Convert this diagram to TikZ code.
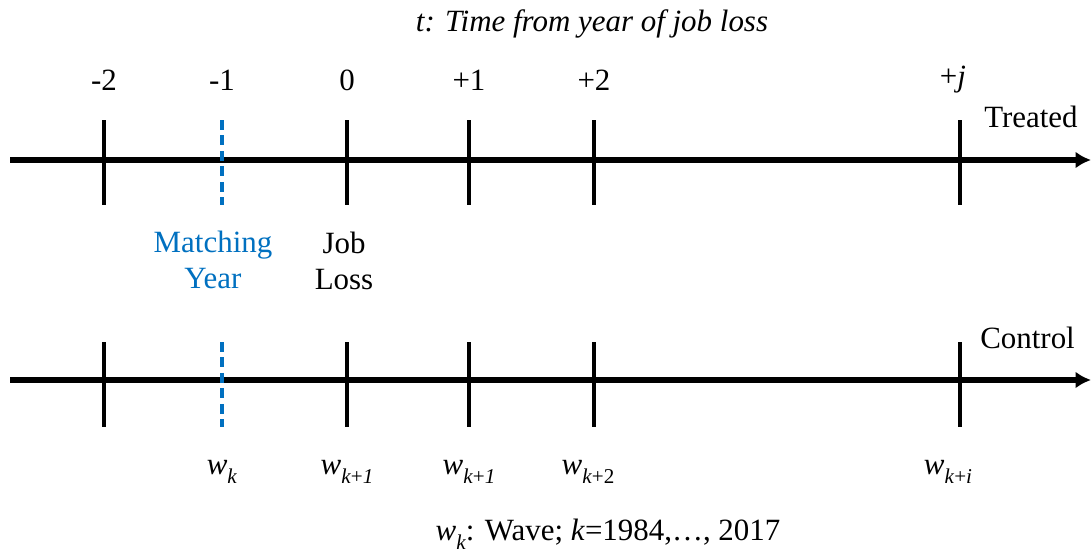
\documentclass[tikz,border=0pt]{standalone}
\usepackage{fontspec}
\setmainfont{Liberation Serif}
\usepackage{tikz}
\usetikzlibrary{arrows.meta}
\definecolor{AzulMatch}{RGB}{0,112,192}
\newcommand{\ola}[1]{\textit{w}\raisebox{-0.6ex}{\fontsize{15}{15}\selectfont #1}}

\begin{document}
\begin{tikzpicture}[x=0.025cm,y=-0.025cm,>={Latex[length=11pt,width=12pt]},
  every node/.style={font=\fontsize{22}{26}\selectfont,inner sep=0pt},
  eje/.style={->,line width=3.8pt},
  marca/.style={line width=2.3pt},
  marcam/.style={line width=2.3pt,AzulMatch,dash pattern=on 7pt off 4pt}]
  \useasboundingbox (0,0) rectangle (1091,552);
  % titulo
  \node (titulo) at (592,24) {\textit{t: Time from year of job loss}};
  % eje tratados
  \coordinate (T0) at (10,160);
  \coordinate (T1) at (1091,160);
  \draw[eje] (T0)--(T1);
  \node[anchor=west] (trat) at (984,117) {Treated};
  % eje control
  \coordinate (C0) at (10,380);
  \coordinate (C1) at (1091,380);
  \draw[eje] (C0)--(C1);
  \node[anchor=west] (ctrl) at (980,338) {Control};
  % marcas
  \coordinate (Ta) at (104,120); \coordinate (Tb) at (104,205);
  \coordinate (Tc) at (222,120); \coordinate (Td) at (222,205);
  \coordinate (Te) at (347,120); \coordinate (Tf) at (347,205);
  \coordinate (Tg) at (469,120); \coordinate (Th) at (469,205);
  \coordinate (Ti) at (594,120); \coordinate (Tj) at (594,205);
  \coordinate (Tk) at (960,120); \coordinate (Tl) at (960,205);
  \draw[marca] (Ta)--(Tb);
  \draw[marcam] (Tc)--(Td);
  \draw[marca] (Te)--(Tf);
  \draw[marca] (Tg)--(Th);
  \draw[marca] (Ti)--(Tj);
  \draw[marca] (Tk)--(Tl);
  \coordinate (Ca) at (104,342); \coordinate (Cb) at (104,427);
  \coordinate (Cc) at (222,342); \coordinate (Cd) at (222,427);
  \coordinate (Ce) at (347,342); \coordinate (Cf) at (347,427);
  \coordinate (Cg) at (469,342); \coordinate (Ch) at (469,427);
  \coordinate (Ci) at (594,342); \coordinate (Cj) at (594,427);
  \coordinate (Ck) at (960,342); \coordinate (Cl) at (960,427);
  \draw[marca] (Ca)--(Cb);
  \draw[marcam] (Cc)--(Cd);
  \draw[marca] (Ce)--(Cf);
  \draw[marca] (Cg)--(Ch);
  \draw[marca] (Ci)--(Cj);
  \draw[marca] (Ck)--(Cl);
  % tiempos
  \node (tm2) at (104,80) {-2};
  \node (tm1) at (222,80) {-1};
  \node (t0) at (347,80) {0};
  \node (tp1) at (469,80) {+1};
  \node (tp2) at (594,80) {+2};
  \node (tpj) at (953,80) {+\textit{j}};
  \node[align=center,text=AzulMatch] (match) at (213,260) {Matching\\Year};
  \node[align=center] (perdida) at (344,261) {Job\\Loss};
  % olas
  \node (w0) at (222,472) {\ola{\textit{k}}};
  \node (w1) at (347,472) {\ola{\textit{k}+\textit{1}}};
  \node (w2) at (469,472) {\ola{\textit{k}+\textit{1}}};
  \node (w3) at (588,472) {\ola{\textit{k}+2}};
  \node (wj) at (948,472) {\ola{\textit{k}+\textit{i}}};
  \node (nota) at (608,534) {\ola{\textit{k}}: Wave; \textit{k}=1984,\ldots, 2017};
\end{tikzpicture}
\end{document}
